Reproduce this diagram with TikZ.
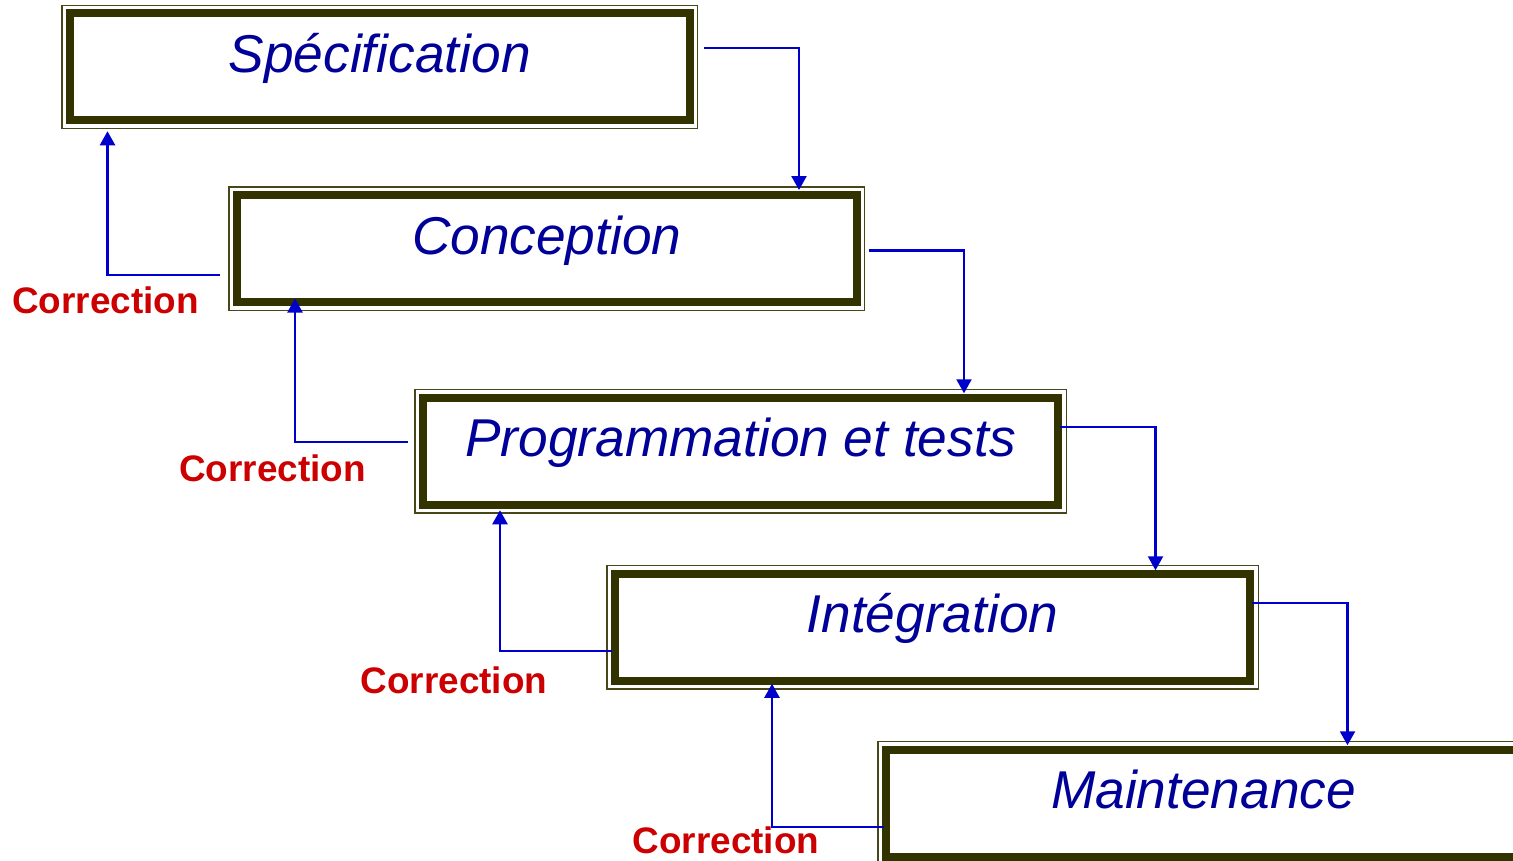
\documentclass[tikz,border=0pt]{standalone}
\usepackage{fontspec}
\setmainfont{Liberation Sans}
\usetikzlibrary{arrows.meta}
\definecolor{framecol}{HTML}{333300}
\definecolor{phasecol}{HTML}{000099}
\definecolor{flowcol}{HTML}{0000CC}
\definecolor{corrcol}{HTML}{CC0000}
\tikzset{
  phase/.style={rectangle, fill=white, draw=framecol, line width=0.16cm,
    preaction={draw=framecol!90, line width=0.35cm},
    preaction={draw=white, line width=0.30cm},
    inner sep=0pt, outer sep=0pt, text height=1.18cm, text depth=0.96cm,
    font=\fontsize{30.3}{36}\selectfont\itshape, text=phasecol},
  flow/.style={draw=flowcol, line width=1.3pt, -{Triangle[width=0.3cm,length=0.28cm]}},
  corr/.style={anchor=base, inner sep=0pt, text=corrcol, font=\fontsize{21}{25}\selectfont\bfseries}
}

\begin{document}
\begin{tikzpicture}
  \clip (0,0) rectangle (30.26,-17.2);
  % phases
  \node[phase, minimum width=12.39cm] (spec)  at (7.595,-1.335)  {Spécification};
  \node[phase, minimum width=12.39cm] (conc)  at (10.935,-4.97)  {Conception};
  \node[phase, minimum width=12.7cm]  (prog)  at (14.81,-9.025)  {Programmation et tests};
  \node[phase, minimum width=12.7cm]  (integ) at (18.65,-12.545) {Intégration};
  \node[phase, minimum width=12.7cm]  (maint) at (24.07,-16.065) {Maintenance};

  % going down
  \draw[flow] ([xshift=0.29cm,yshift=0.37cm]spec.east) -| ([xshift=-1.15cm,yshift=0.1cm]conc.north east);
  \draw[flow] ([xshift=0.24cm,yshift=-0.04cm]conc.east) -| ([xshift=-1.88cm,yshift=0.09cm]prog.north east);
  \draw[flow] ([xshift=0.04cm,yshift=0.49cm]prog.east) -| ([xshift=-1.89cm,yshift=0.07cm]integ.north east);
  \draw[flow] ([xshift=0.04cm,yshift=0.49cm]integ.east) -| ([xshift=9.23cm,yshift=0.09cm]maint.north west);

  % corrections going back up
  \draw[flow] ([xshift=-0.35cm,yshift=-0.53cm]conc.west) -| ([xshift=0.75cm,yshift=-0.22cm]spec.south west);
  \draw[flow] ([xshift=-0.31cm,yshift=0.19cm]prog.west) -| ([xshift=1.16cm,yshift=0.07cm]conc.south west);
  \draw[flow] ([xshift=-0.06cm,yshift=-0.48cm]integ.west) -| ([xshift=1.54cm,yshift=-0.11cm]prog.south west);
  \draw[flow] ([xshift=-0.05cm,yshift=-0.47cm]maint.west) -| ([xshift=3.14cm,yshift=-0.06cm]integ.south west);

  \node[corr] (corr1) at (2.11,-6.26)   {Correction};
  \node[corr] (corr2) at (5.45,-9.62)   {Correction};
  \node[corr] (corr3) at (9.08,-13.86)  {Correction};
  \node[corr] (corr4) at (14.52,-17.07) {Correction};
\end{tikzpicture}
\end{document}
